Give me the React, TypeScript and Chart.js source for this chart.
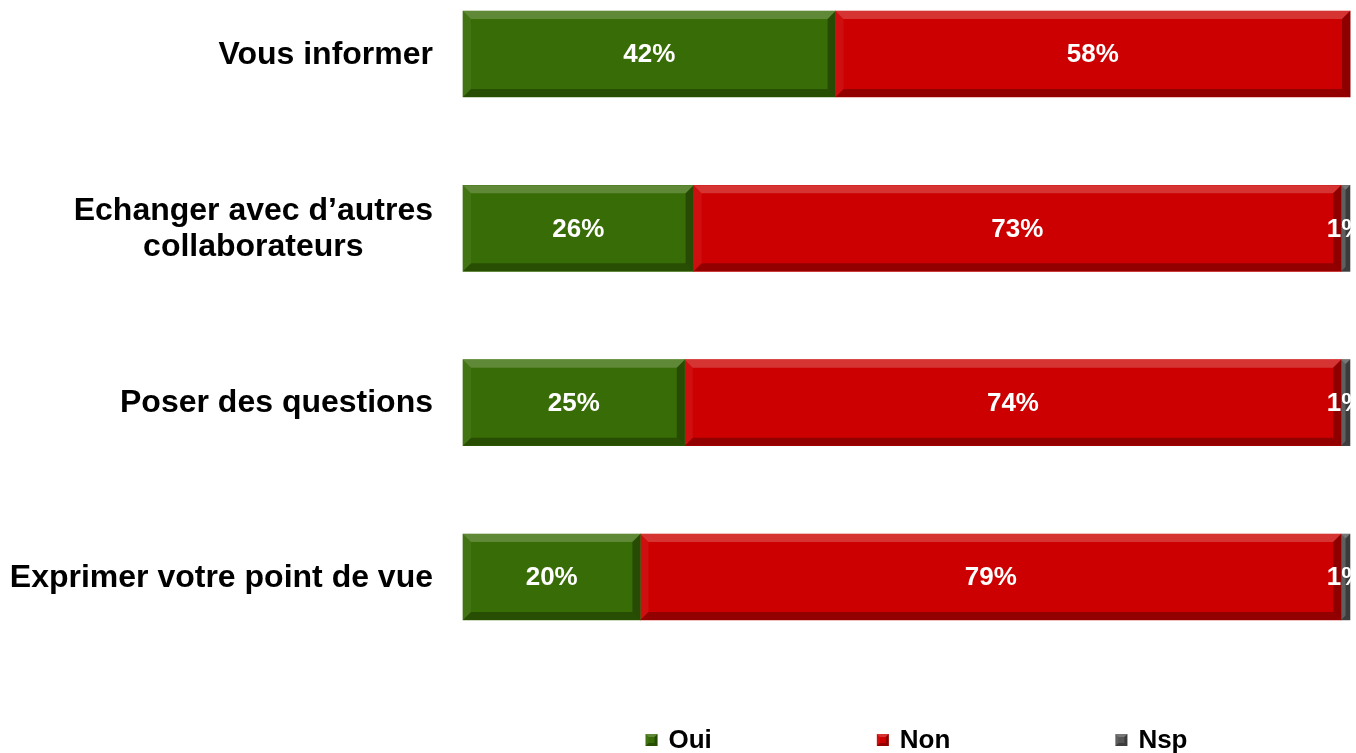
import React, { useEffect, useRef } from 'react';
import { Chart, registerables } from 'chart.js';

Chart.register(...registerables);

const categories: string[][] = [
  ['Vous informer'],
  ['Echanger avec d’autres', 'collaborateurs'],
  ['Poser des questions'],
  ['Exprimer votre point de vue'],
];
const seriesNames = ['Oui', 'Non', 'Nsp'];
const ouiValues = [42, 26, 25, 20];
const nonValues = [58, 73, 74, 79];
const nspValues = [0, 1, 1, 1];
const seriesColors = ['#386C06', '#CC0000', '#555555'];

const LABEL_FONT = 'bold 32px "Liberation Sans", Arial, sans-serif';
const VALUE_FONT = 'bold 26px "Liberation Sans", Arial, sans-serif';
const LEGEND_FONT = 'bold 26px "Liberation Sans", Arial, sans-serif';

function bevel(ctx: CanvasRenderingContext2D, l: number, t: number, r: number, b: number, size: number) {
  const s = Math.max(0, Math.min(size, (r - l) / 2, (b - t) / 2));
  const poly = (pts: number[][], fill: string) => {
    ctx.beginPath();
    ctx.moveTo(pts[0][0], pts[0][1]);
    for (let i = 1; i < pts.length; i++) ctx.lineTo(pts[i][0], pts[i][1]);
    ctx.closePath();
    ctx.fillStyle = fill;
    ctx.fill();
  };
  poly([[l, t], [r, t], [r - s, t + s], [l + s, t + s]], 'rgba(255,255,255,0.2)');
  poly([[l, b], [r, b], [r - s, b - s], [l + s, b - s]], 'rgba(0,0,0,0.28)');
  poly([[l, t], [l + s, t + s], [l + s, b - s], [l, b]], 'rgba(255,255,255,0.06)');
  poly([[r, t], [r - s, t + s], [r - s, b - s], [r, b]], 'rgba(0,0,0,0.3)');
}

const decorPlugin = {
  id: 'decor',
  afterDatasetsDraw(chart: any) {
    const ctx: CanvasRenderingContext2D = chart.ctx;
    ctx.save();
    chart.data.datasets.forEach((ds: any, di: number) => {
      const meta = chart.getDatasetMeta(di);
      meta.data.forEach((el: any, i: number) => {
        if (!ds.data[i]) return;
        const p = el.getProps(['x', 'y', 'base', 'height'], true);
        const l = Math.min(p.x, p.base);
        const r = Math.max(p.x, p.base);
        const t = p.y - p.height / 2;
        const b = p.y + p.height / 2;
        bevel(ctx, l, t, r, b, 8);
      });
    });
    ctx.font = VALUE_FONT;
    ctx.fillStyle = '#ffffff';
    ctx.textAlign = 'center';
    ctx.textBaseline = 'middle';
    chart.data.datasets.forEach((ds: any, di: number) => {
      const meta = chart.getDatasetMeta(di);
      meta.data.forEach((el: any, i: number) => {
        const v = ds.data[i];
        if (!v) return;
        const p = el.getProps(['x', 'y', 'base'], true);
        ctx.fillText(v + '%', (p.x + p.base) / 2, p.y + 1);
      });
    });
    ctx.restore();
  },
  afterDraw(chart: any) {
    const ctx: CanvasRenderingContext2D = chart.ctx;
    const area = chart.chartArea;
    const yScale = chart.scales.y;
    ctx.save();
    ctx.font = LABEL_FONT;
    ctx.fillStyle = '#000000';
    ctx.textBaseline = 'middle';
    ctx.textAlign = 'center';
    const rightEdge = area.left - 30;
    const lineH = 36;
    categories.forEach((lines, i) => {
      const cy = yScale.getPixelForValue(i);
      const maxW = Math.max(...lines.map((s) => ctx.measureText(s).width));
      const cx = rightEdge - maxW / 2;
      lines.forEach((s, k) => {
        const y = cy + (k - (lines.length - 1) / 2) * lineH + 1;
        ctx.fillText(s, cx, y);
      });
    });
    ctx.font = LEGEND_FONT;
    const box = 12;
    const gap = 11;
    const pad = 165;
    const widths = seriesNames.map((s) => box + gap + ctx.measureText(s).width);
    const total = widths.reduce((a, b) => a + b, 0) + pad * (seriesNames.length - 1);
    let x = (area.left + area.right) / 2 + 10 - total / 2;
    const ly = area.bottom + 163;
    ctx.textAlign = 'left';
    seriesNames.forEach((s, i) => {
      ctx.fillStyle = seriesColors[i];
      ctx.fillRect(x, ly - box / 2, box, box);
      bevel(ctx, x, ly - box / 2, x + box, ly + box / 2, 3);
      ctx.fillStyle = '#000000';
      ctx.fillText(s, x + box + gap, ly + 1);
      x += widths[i] + pad;
    });
    ctx.restore();
  },
};

export default function App() {
  const ref = useRef<HTMLCanvasElement | null>(null);
  useEffect(() => {
    if (!ref.current) return;
    const seriesData = [ouiValues, nonValues, nspValues];
    const chart = new Chart(ref.current, {
      type: 'bar',
      data: {
        labels: categories.map((c) => c.join(' ')),
        datasets: seriesNames.map((name, i) => ({
          label: name,
          data: seriesData[i],
          backgroundColor: seriesColors[i],
          borderWidth: 0,
          barThickness: 86,
          clip: false as any,
        })),
      },
      options: {
        indexAxis: 'y',
        animation: false,
        responsive: true,
        maintainAspectRatio: false,
        layout: { padding: { top: 54, bottom: 176, left: 463, right: 6 } },
        scales: {
          x: { stacked: true, min: 0, max: 100, display: false },
          y: { stacked: true, offset: false, display: false },
        },
        plugins: {
          legend: { display: false },
          tooltip: { enabled: false },
        },
      },
      plugins: [decorPlugin],
    });
    return () => chart.destroy();
  }, []);
  return (
    <div style={{ position: 'fixed', left: 0, top: 0, width: 1356, height: 753, background: '#ffffff' }}>
      <canvas ref={ref} />
    </div>
  );
}
